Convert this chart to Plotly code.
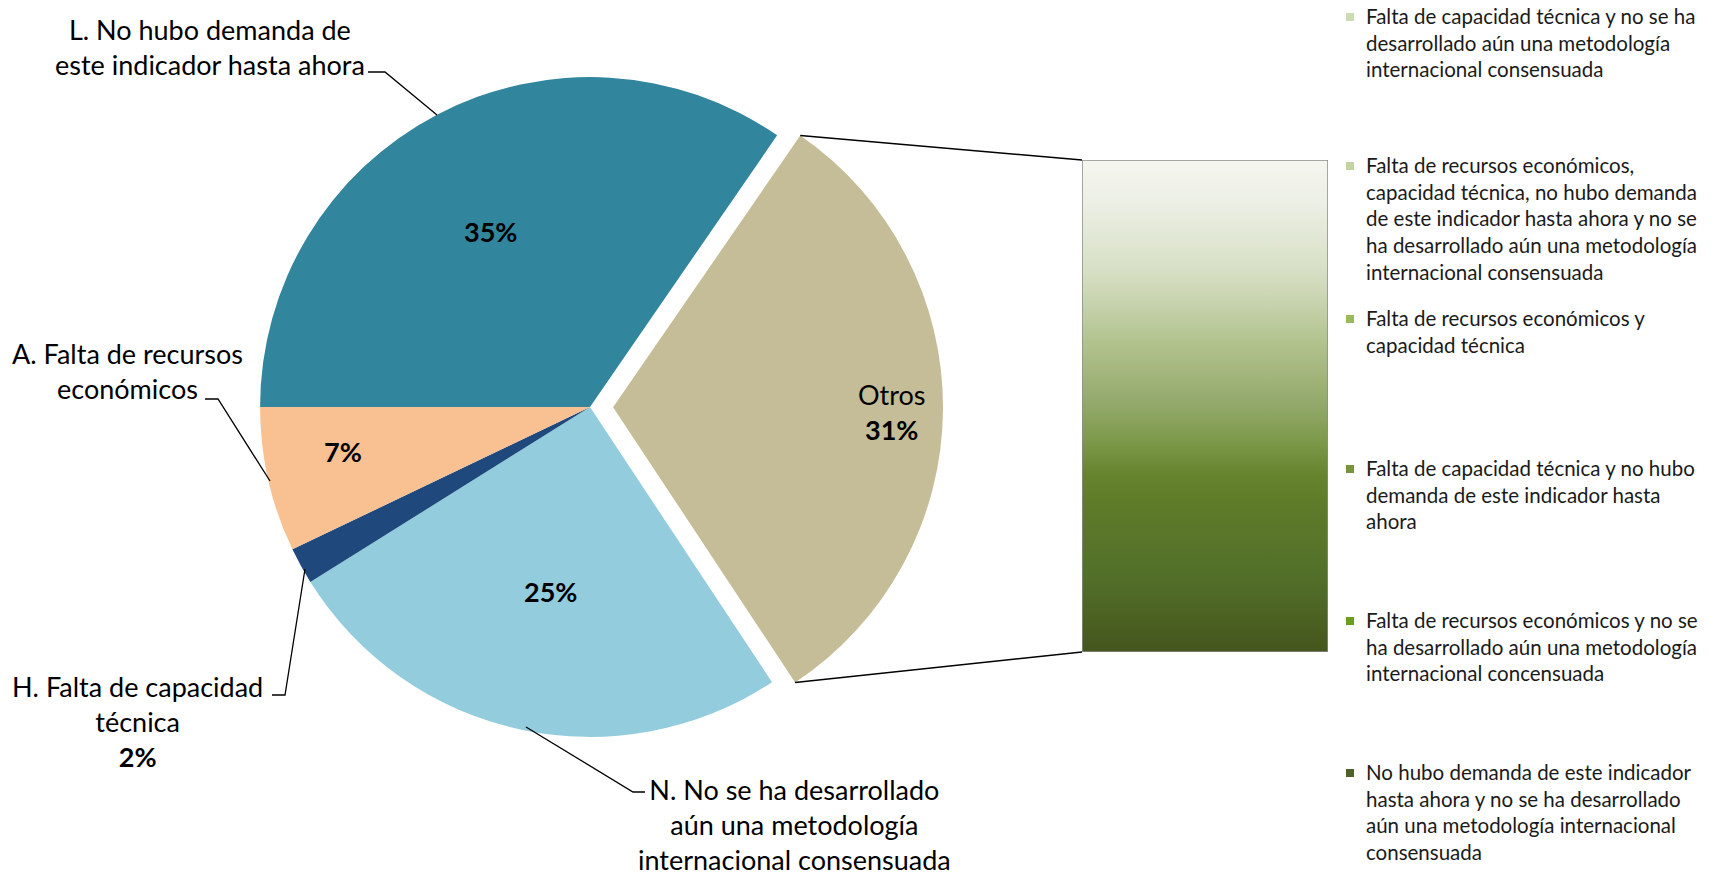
import math
import plotly.graph_objects as go

W, H = 1719, 879

# ---------------- data ----------------
pie_labels = [
    "L. No hubo demanda de este indicador hasta ahora",
    "Otros",
    "N. No se ha desarrollado aún una metodología internacional consensuada",
    "H. Falta de capacidad técnica",
    "A. Falta de recursos económicos",
]
pie_values = [34.6, 31.1, 25.4, 1.8, 7.1]
pie_colors = ["#31859c", "#c4bd97", "#93cddd", "#1f497d", "#f9c192"]
pie_pull = [0, 0.07, 0, 0, 0]

otros_labels = [
    "Falta de capacidad técnica y no se ha<br>desarrollado aún una metodología<br>internacional consensuada",
    "Falta de recursos económicos,<br>capacidad técnica, no hubo demanda<br>de este indicador hasta ahora y no se<br>ha desarrollado aún una metodología<br>internacional consensuada",
    "Falta de recursos económicos y<br>capacidad técnica",
    "Falta de capacidad técnica y no hubo<br>demanda de este indicador hasta<br>ahora",
    "Falta de recursos económicos y no se<br>ha desarrollado aún una metodología<br>internacional concensuada",
    "No hubo demanda de este indicador<br>hasta ahora y no se ha desarrollado<br>aún una metodología internacional<br>consensuada",
]
otros_colors = ["#cddbb5", "#c2d59e", "#9bbb59", "#77933c", "#6b9e1f", "#4f6228"]

total = sum(pie_values)
pct = [round(v / total * 100) for v in pie_values]
otros_value = pie_values[1]

# ---------------- layout helpers ----------------
def px(x):
    return x / W

def py(y):
    return 1 - y / H

FONT = "Lato"

# pie geometry (pixels)
cx, cy, half = 590, 407, 353
pie_dom_x = [px(cx - half), px(cx + half)]
pie_dom_y = [py(cy + half), py(cy - half)]
r = half / (1 + max(pie_pull))

# bar geometry (pixels)
bar_l, bar_r, bar_t, bar_b = 1082, 1328, 160, 652

fig = go.Figure()

fig.add_trace(go.Pie(
    labels=pie_labels, values=pie_values, sort=False,
    direction="clockwise", rotation=270, pull=pie_pull,
    marker=dict(colors=pie_colors, line=dict(width=0)),
    textinfo="none", hoverinfo="label+percent", showlegend=False,
    domain=dict(x=pie_dom_x, y=pie_dom_y),
))

# gradient bar for "Otros" breakdown
fig.add_trace(go.Scatter(
    x=[0, 0, 1, 1, 0], y=[0, otros_value, otros_value, 0, 0],
    mode="lines", fill="toself",
    fillgradient=dict(type="vertical", colorscale=[
        [0.0, "#45561d"], [0.16, "#53702a"], [0.30, "#5e7b29"],
        [0.36, "#66842e"], [0.43, "#7d9a4a"], [0.50, "#92a86a"],
        [0.63, "#b3c38f"], [0.77, "#d6dfc4"], [0.90, "#eaeee2"],
        [1.0, "#f5f6f0"]]),
    line=dict(color="#8c8c8c", width=1.5),
    hoverinfo="skip", showlegend=False,
))

shapes = []
annotations = []

# connector lines from exploded slice to bar
start_deg = 270 + pie_values[0] / total * 360
end_deg = start_deg + otros_value / total * 360
mid = math.radians((start_deg + end_deg) / 2)
d = pie_pull[1] * r
for ang, by in [(start_deg, bar_t), (end_deg, bar_b)]:
    a = math.radians(ang)
    x0 = cx + d * math.sin(mid) + r * math.sin(a)
    y0 = cy - d * math.cos(mid) - r * math.cos(a)
    shapes.append(dict(type="line", xref="paper", yref="paper",
                       x0=px(x0), y0=py(y0), x1=px(bar_l), y1=py(by),
                       line=dict(color="black", width=1.5)))

# leader lines
leaders = [
    [(368, 72), (385, 72), (437, 115)],
    [(205, 399), (218, 399), (270, 481)],
    [(272, 695), (285, 695), (305, 569)],
    [(645, 792), (633, 792), (526, 727)],
]
for pts in leaders:
    path = "M " + " L ".join(f"{px(x)},{py(y)}" for x, y in pts)
    shapes.append(dict(type="path", xref="paper", yref="paper", path=path,
                       line=dict(color="black", width=1.3)))

LBL = 27
def ann(text, x, y, size=LBL, xanchor="center", yanchor="middle", align="center"):
    annotations.append(dict(text=text, x=px(x), y=py(y), xref="paper", yref="paper",
                            showarrow=False, xanchor=xanchor, yanchor=yanchor, align=align,
                            font=dict(family=FONT, size=size, color="black")))

ann("L. No hubo demanda de<br>este indicador hasta ahora", 210, 47)
ann("A. Falta de recursos<br>económicos", 127, 371)
ann(f"H. Falta de capacidad<br>técnica<br><b>{pct[3]}%</b>", 137, 721)
ann("N. No se ha desarrollado<br>aún una metodología<br>internacional consensuada", 794, 824)
ann(f"Otros<br><b>{pct[1]}%</b>", 892, 412)
ann(f"<b>{pct[0]}%</b>", 490, 231)
ann(f"<b>{pct[4]}%</b>", 343, 451)
ann(f"<b>{pct[2]}%</b>", 550, 591)

# custom legend for the breakdown
leg_y = [17, 166, 319, 469, 621, 773]
LEG = 20.5
for lab, col, yy in zip(otros_labels, otros_colors, leg_y):
    shapes.append(dict(type="rect", xref="paper", yref="paper",
                       x0=px(1346), x1=px(1354), y0=py(yy + 4), y1=py(yy - 4),
                       fillcolor=col, line=dict(width=0)))
    annotations.append(dict(text=lab, x=px(1364), y=py(yy - LEG * 0.75), xref="paper", yref="paper",
                            showarrow=False, xanchor="left", yanchor="top", align="left",
                            font=dict(family=FONT, size=LEG, color="#1a1a1a")))

fig.update_layout(
    width=W, height=H, autosize=False,
    margin=dict(l=0, r=0, t=0, b=0),
    paper_bgcolor="white", plot_bgcolor="white",
    xaxis=dict(domain=[px(bar_l), px(bar_r)], range=[0, 1], visible=False, fixedrange=True),
    yaxis=dict(domain=[py(bar_b), py(bar_t)], range=[0, otros_value], visible=False, fixedrange=True),
    shapes=shapes, annotations=annotations,
)

fig.write_html("out.html")
